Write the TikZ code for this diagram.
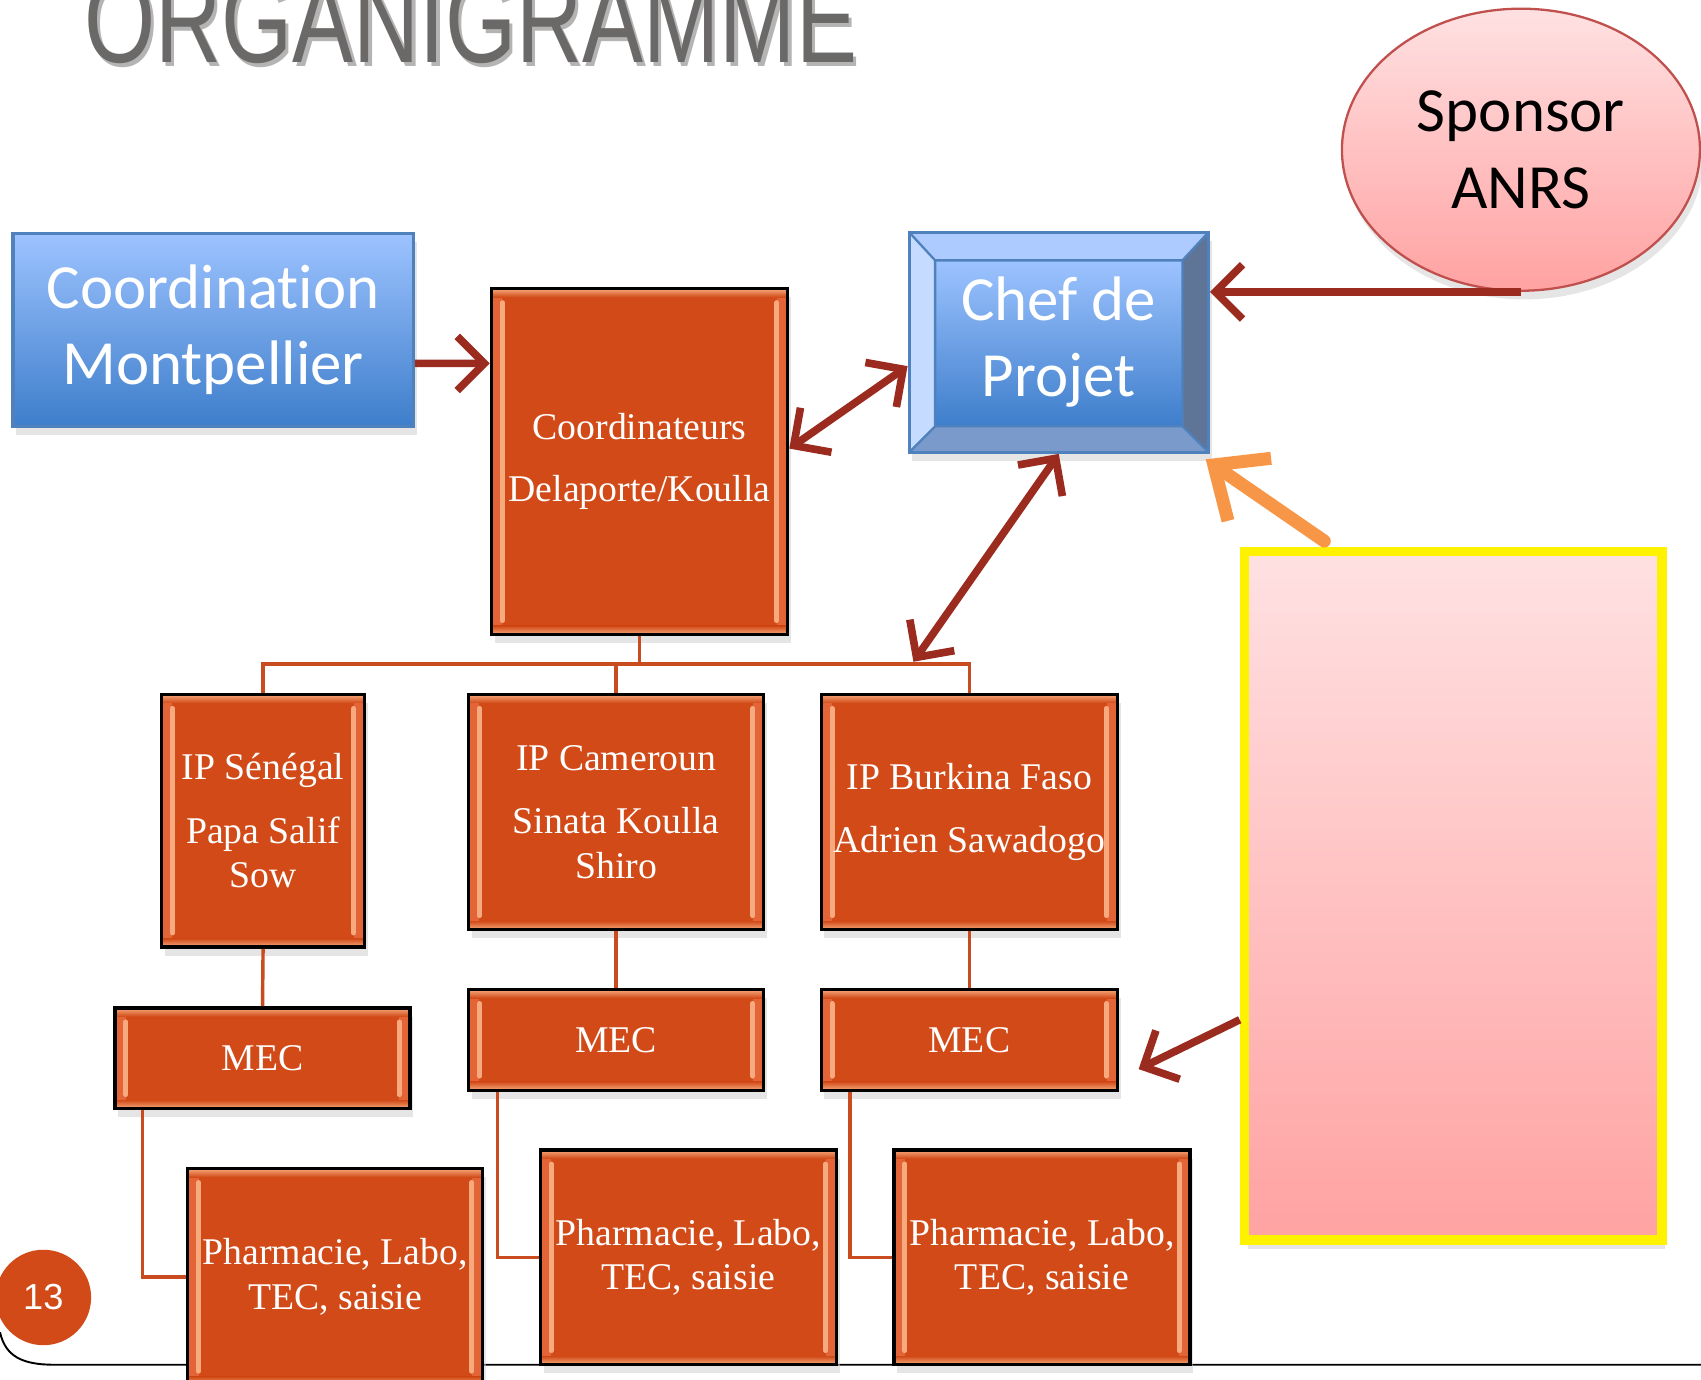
\documentclass[tikz,border=0pt]{standalone}
\usepackage{fontspec}
\usepackage{graphicx}
\setmainfont{Liberation Serif}
\newfontfamily\calibri[Ligatures=NoCommon]{Carlito}
\newfontfamily\arial{Liberation Sans}
\usetikzlibrary{arrows.meta,shapes.geometric,shadows}

\definecolor{orangeboite}{RGB}{209,74,24}
\definecolor{orangeclair}{RGB}{247,170,125}
\definecolor{orangebord}{RGB}{226,100,55}
\definecolor{rougefleche}{RGB}{156,43,31}
\definecolor{orangelien}{RGB}{200,76,32}
\definecolor{orangefleche}{RGB}{247,150,70}
\definecolor{bleuhaut}{RGB}{157,195,255}
\definecolor{bleubas}{RGB}{62,126,203}
\definecolor{bleubord}{RGB}{79,129,189}
\definecolor{biseauhaut}{RGB}{173,203,255}
\definecolor{biseaugauche}{RGB}{197,219,255}
\definecolor{biseaudroit}{RGB}{95,117,151}
\definecolor{biseaubas}{RGB}{122,154,203}
\definecolor{roseclair}{RGB}{255,225,226}
\definecolor{rosefonce}{RGB}{255,162,162}
\definecolor{rosebord}{RGB}{192,80,77}
\definecolor{titregris}{RGB}{107,104,104}
\definecolor{titreombre}{RGB}{180,180,180}

\tikzset{
  ombre/.style={drop shadow={shadow xshift=0.3mm, shadow yshift=-0.8mm, fill=black!20}},
  boite/.style={draw=black, line width=0.9pt, fill=orangeboite, text=white,
    inner sep=0pt, align=center, ombre,
    font=\fontsize{9.9}{11.7}\selectfont,
    path picture={
      \fill[orangebord] (path picture bounding box.north west) rectangle ([xshift=1mm]path picture bounding box.south west);
      \fill[orangebord] (path picture bounding box.north east) rectangle ([xshift=-1mm]path picture bounding box.south east);
      \shade[top color=orangeclair, bottom color=orangeboite] (path picture bounding box.north west) rectangle ([yshift=-0.8mm]path picture bounding box.north east);
      \shade[top color=orangeboite, bottom color=orangeclair] (path picture bounding box.south west) rectangle ([yshift=0.8mm]path picture bounding box.south east);
      \draw[orangeclair, line width=1.3pt, line cap=round]
        ([xshift=1mm,yshift=-1.3mm]path picture bounding box.north west) -- ([xshift=1mm,yshift=1.3mm]path picture bounding box.south west)
        ([xshift=-1mm,yshift=-1.3mm]path picture bounding box.north east) -- ([xshift=-1mm,yshift=1.3mm]path picture bounding box.south east);}},
  bleu/.style={draw=bleubord, line width=0.8pt, top color=bleuhaut, bottom color=bleubas,
    text=white, inner sep=0pt, align=center, ombre,
    font=\calibri\fontsize{16.5}{20}\selectfont},
  biseau/.style={bleu, path picture={
    \path (path picture bounding box.north west) coordinate (bA)
          (path picture bounding box.north east) coordinate (bB)
          (path picture bounding box.south east) coordinate (bC)
          (path picture bounding box.south west) coordinate (bD);
    \path ([shift={(0.24,-0.26)}]bA) coordinate (ba)
          ([shift={(-0.24,-0.26)}]bB) coordinate (bb)
          ([shift={(-0.24,0.24)}]bC) coordinate (bc)
          ([shift={(0.24,0.24)}]bD) coordinate (bd);
    \fill[biseauhaut] (bA) -- (bB) -- (bb) -- (ba) -- cycle;
    \fill[biseaudroit] (bB) -- (bC) -- (bc) -- (bb) -- cycle;
    \fill[biseaubas] (bC) -- (bD) -- (bd) -- (bc) -- cycle;
    \fill[biseaugauche] (bD) -- (bA) -- (ba) -- (bd) -- cycle;
    \shade[top color=bleuhaut, bottom color=bleubas] (ba) rectangle (bc);
    \draw[bleubord, line width=0.6pt] (ba) rectangle (bc) (bA) -- (ba) (bB) -- (bb) (bC) -- (bc) (bD) -- (bd);}},
  fleche/.style={draw=rougefleche, line width=2pt},
  flecheorange/.style={draw=orangefleche, line width=3.4pt, line cap=round,
    -{Straight Barb[length=4mm,width=7mm]}},
  lien/.style={draw=orangelien, line width=0.9pt}
}

\begin{document}
\begin{tikzpicture}[>={Straight Barb[length=2.5mm,width=5mm]}]
  \path[use as bounding box, clip] (0,0) rectangle (15.68,-12.72);

  % Bottom line of the slide
  \draw[black, line width=0.5pt] (0,-12.28) .. controls (0.05,-12.5) and (0.2,-12.58) .. (0.5,-12.58) -- (15.68,-12.58);

  % Title
  \node[anchor=base, text=titreombre, font=\arial\fontsize{24}{24}\selectfont] (titreom) at (4.37,-0.61) {\scalebox{1}[1.35]{ORGANIGRAMME}};
  \node[anchor=base, text=titregris, font=\arial\fontsize{24}{24}\selectfont] (titre) at (4.34,-0.58) {\scalebox{1}[1.35]{ORGANIGRAMME}};

  % Coordination Montpellier
  \node[bleu, minimum width=3.69cm, minimum height=1.78cm] (cm) at (1.965,-3.04) {Coordination\\Montpellier};

  % Coordinateurs
  \node[boite, minimum width=2.73cm, minimum height=3.19cm] (coord) at (5.895,-4.255) {Coordinateurs\\[4.5pt]Delaporte/Koulla};

  % Chef de Projet
  \node[biseau, minimum width=2.76cm, minimum height=2.03cm] (chef) at (9.76,-3.155) {Chef de\\Projet};

  % Sponsor
  \node[ellipse, draw=rosebord, line width=0.6pt, top color=roseclair, bottom color=rosefonce,
    minimum width=3.3cm, minimum height=2.6cm, inner sep=0pt, align=center, ombre,
    font=\calibri\fontsize{16.5}{20}\selectfont] (sponsor) at (14.02,-1.38) {Sponsor\\ANRS};

  % IP
  \node[boite, minimum width=1.87cm, minimum height=2.33cm] (ipsn) at (2.425,-7.565) {IP Sénégal\\[5pt]Papa Salif\\Sow};
  \node[boite, minimum width=2.72cm, minimum height=2.17cm] (ipcm) at (5.68,-7.485) {IP Cameroun\\[5pt]Sinata Koulla\\Shiro};
  \node[boite, minimum width=2.73cm, minimum height=2.17cm] (ipbf) at (8.935,-7.485) {IP Burkina Faso\\[5pt]Adrien Sawadogo};

  % MEC
  \node[boite, minimum width=2.72cm, minimum height=0.93cm] (mec1) at (2.42,-9.755) {MEC};
  \node[boite, minimum width=2.72cm, minimum height=0.93cm] (mec2) at (5.68,-9.585) {MEC};
  \node[boite, minimum width=2.73cm, minimum height=0.93cm] (mec3) at (8.935,-9.585) {MEC};

  % Pharmacie
  \node[boite, minimum width=2.72cm, minimum height=2cm] (pharma1) at (3.09,-11.77) {Pharmacie, Labo,\\TEC, saisie};
  \node[boite, minimum width=2.73cm, minimum height=1.98cm] (pharma2) at (6.345,-11.59) {Pharmacie, Labo,\\TEC, saisie};
  \node[boite, minimum width=2.73cm, minimum height=1.98cm] (pharma3) at (9.605,-11.59) {Pharmacie, Labo,\\TEC, saisie};

  % Yellow frame
  \node[draw=yellow, line width=2.4pt, top color=roseclair, bottom color=rosefonce,
    minimum width=3.85cm, minimum height=6.35cm, ombre] (cadre) at (13.395,-8.255) {};

  % Page number
  \node[circle, fill=orangeboite, text=white, minimum size=0.88cm, inner sep=0pt,
    font=\arial\fontsize{9.5}{10}\selectfont] (page) at (0.4,-11.96) {13};

  % Tree lines
  \coordinate (barre) at (5.895,-6.12);
  \draw[lien] (coord.south) -- (barre);
  \draw[lien] (ipsn.north) |- (barre) -| (ipbf.north);
  \draw[lien] (ipcm.north) -- (ipcm.north |- barre);
  \draw[lien] (ipsn.south) -- (mec1.north);
  \draw[lien] (ipcm.south) -- (mec2.north);
  \draw[lien] (ipbf.south) -- (mec3.north);
  \draw[lien] ([xshift=0.27cm]mec1.south west) |- (pharma1.west);
  \draw[lien] ([xshift=0.28cm]mec2.south west) |- (pharma2.west);
  \draw[lien] ([xshift=0.28cm]mec3.south west) |- (pharma3.west);

  % Arrows
  \coordinate (jonction) at (8.42,-6.1);
  \draw[fleche, ->] ([yshift=-0.31cm]cm.east) -- ([yshift=0.905cm]coord.west);
  \draw[fleche, <->] ([yshift=0.12cm]coord.east) -- ([yshift=-0.22cm]chef.west);
  \draw[fleche, ->] (sponsor.south) -- (sponsor.south -| chef.east);
  \draw[fleche, <->] (chef.south) -- (jonction);
  \draw[fleche, ->] ([yshift=-1.145cm]cadre.west) -- ([xshift=0.18cm,yshift=-0.27cm]mec3.east);
  \draw[flecheorange] ([xshift=0.78cm,yshift=0.05cm]cadre.north west) -- ([xshift=-0.04cm,yshift=-0.05cm]chef.south east);
\end{tikzpicture}
\end{document}
